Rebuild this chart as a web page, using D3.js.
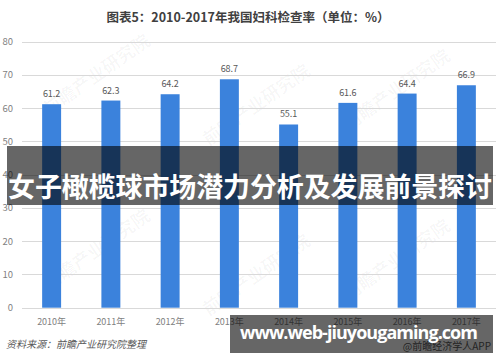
<!DOCTYPE html>
<html>
<head>
<meta charset="utf-8">
<script src="https://cdn.jsdelivr.net/npm/d3@7"></script>
<style>
  body { margin: 0; background: #fff; }
  svg { display: block; font-family: "Microsoft YaHei", "Noto Sans CJK SC", sans-serif; }
</style>
</head>
<body>
<script>
const years = ['2010年', '2011年', '2012年', '2013年', '2014年', '2015年', '2016年', '2017年'];
const rates = [61.2, 62.3, 64.2, 68.7, 55.1, 61.6, 64.4, 66.9];
const yTicks = [0, 10, 20, 30, 40, 50, 60, 70, 80];

const svgWidth = 500;
const svgHeight = 362;

const svg = d3.select('body')
.append('svg')
.attr('width', svgWidth)
.attr('height', svgHeight)

const x = d3.scaleBand()
.domain(years)
.range([22, 496])
.paddingInner(0.68)
.paddingOuter(0.34)

const y = d3.scaleLinear()
.domain([0, 80])
.range([307.7, 41.7])

// faint watermarks, kept well inside the frame
const marks = [[100, 80], [260, 110], [400, 95], [100, 255], [260, 280], [400, 265]];
svg.append('g')
.selectAll('text')
.data(marks).enter()
.append('text')
.attr('transform', (d) => `translate(${d[0]},${d[1]}) rotate(-35)`)
.attr('text-anchor', 'middle')
.attr('font-size', 18)
.attr('font-weight', 'bold')
.attr('fill', '#000')
.attr('fill-opacity', 0.035)
.text('前瞻产业研究院')

// gridlines + y labels
const grid = svg.append('g')
grid.selectAll('line')
.data(yTicks).enter()
.append('line')
.attr('x1', 22)
.attr('x2', 496)
.attr('y1', (d) => Math.round(y(d)) + 0.5)
.attr('y2', (d) => Math.round(y(d)) + 0.5)
.attr('stroke', '#d9d9d9')
.attr('stroke-width', 1)

grid.selectAll('text')
.data(yTicks).enter()
.append('text')
.attr('x', 13)
.attr('y', (d) => y(d) + 3.5)
.attr('text-anchor', 'end')
.attr('font-size', 9.5)
.attr('fill', '#7f7f7f')
.text((d) => d)

// bars
svg.append('g')
.selectAll('rect')
.data(rates).enter()
.append('rect')
.attr('x', (d, i) => x(years[i]))
.attr('width', x.bandwidth())
.attr('y', (d) => y(d))
.attr('height', (d) => y(0) - y(d))
.attr('fill', '#3b82dc')

// value labels
svg.append('g')
.selectAll('text')
.data(rates).enter()
.append('text')
.attr('x', (d, i) => x(years[i]) + x.bandwidth() / 2)
.attr('y', (d) => y(d) - 7)
.attr('text-anchor', 'middle')
.attr('font-size', 9)
.attr('fill', '#595959')
.text((d) => d.toFixed(1))

// category labels
svg.append('g')
.selectAll('text')
.data(years).enter()
.append('text')
.attr('x', (d) => x(d) + x.bandwidth() / 2)
.attr('y', 325)
.attr('text-anchor', 'middle')
.attr('font-size', 9)
.attr('fill', '#7f7f7f')
.text((d) => d)

// title
svg.append('text')
.attr('x', 248)
.attr('y', 22)
.attr('text-anchor', 'middle')
.attr('font-size', 12.5)
.attr('font-weight', 'bold')
.attr('fill', '#404040')
.text('图表5：2010-2017年我国妇科检查率（单位：%）')

// source
svg.append('text')
.attr('x', 6)
.attr('y', 348)
.attr('font-size', 10)
.attr('font-style', 'italic')
.attr('fill', '#595959')
.text('资料来源：前瞻产业研究院整理')

svg.append('text')
.attr('x', 491)
.attr('y', 350)
.attr('text-anchor', 'end')
.attr('font-size', 10)
.attr('fill', '#595959')
.text('@前瞻经济学人APP')

// overlay banners
svg.append('rect')
.attr('x', 7).attr('y', 146)
.attr('width', 486).attr('height', 59)
.attr('fill', '#000').attr('fill-opacity', 0.6)

svg.append('text')
.attr('x', 250)
.attr('y', 197)
.attr('text-anchor', 'middle')
.attr('font-size', 27)
.attr('font-weight', 'bold')
.attr('fill', '#fff')
.attr('textLength', 484)
.text('女子橄榄球市场潜力分析及发展前景探讨')

svg.append('rect')
.attr('x', 230).attr('y', 315)
.attr('width', 263).attr('height', 38)
.attr('fill', '#000').attr('fill-opacity', 0.6)

svg.append('text')
.attr('x', 359)
.attr('y', 339)
.attr('text-anchor', 'middle')
.attr('font-size', 18)
.attr('font-weight', 'bold')
.attr('fill', '#fff')
.attr('font-family', '"Open Sans", sans-serif')
.attr('textLength', 238)
.attr('lengthAdjust', 'spacing')
.text('www.web-jiuyougaming.com')
</script>
</body>
</html>
